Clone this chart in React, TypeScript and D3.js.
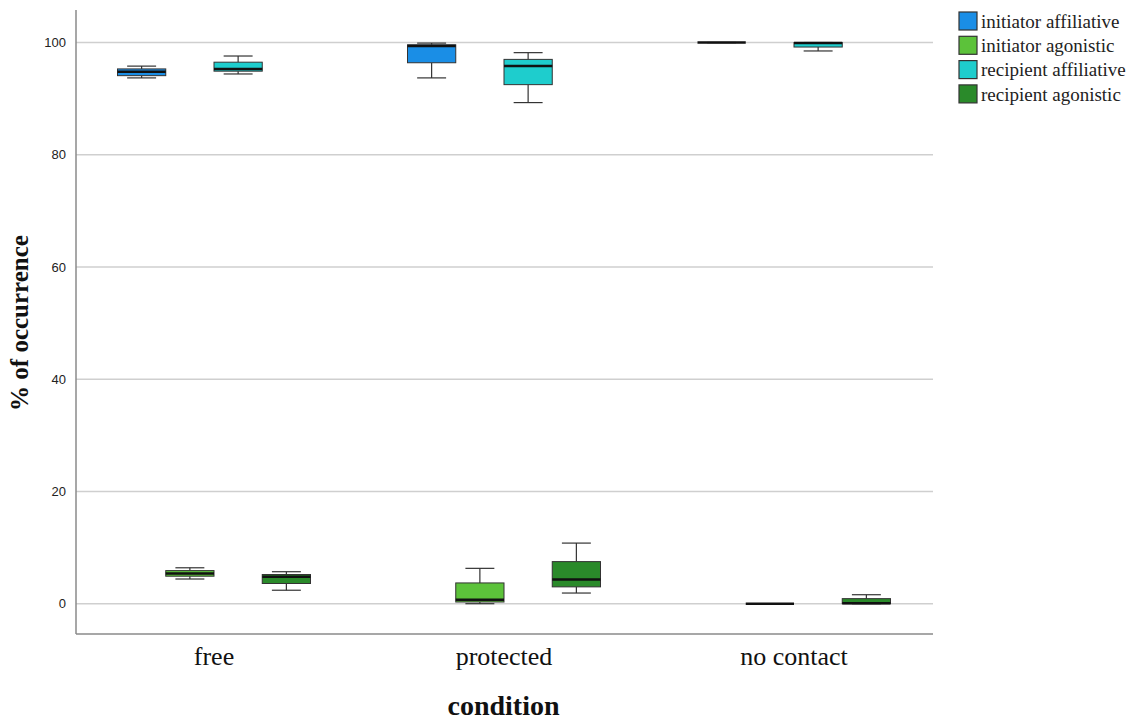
import React from "react";
import * as d3 from "d3";

// conditions on the x axis
const conditions = ["free", "protected", "no contact"];
const seriesNames = ["initiator affiliative", "initiator agonistic", "recipient affiliative", "recipient agonistic"];
const seriesColors = ["#1a8ee6", "#5cc23a", "#1ecdcd", "#2a8a2a"];

// box stats per series, one entry per condition: [min, q1, median, q3, max]
const initiatorAffiliative = [
  [93.7, 94.1, 94.8, 95.3, 95.8],
  [93.7, 96.4, 99.4, 99.6, 99.9],
  [100, 100, 100, 100, 100],
];
const initiatorAgonistic = [
  [4.4, 4.9, 5.4, 5.9, 6.4],
  [0, 0.3, 0.7, 3.7, 6.3],
  [0, 0, 0, 0, 0],
];
const recipientAffiliative = [
  [94.4, 94.9, 95.3, 96.5, 97.6],
  [89.3, 92.5, 95.8, 97.0, 98.2],
  [98.5, 99.2, 99.9, 100, 100],
];
const recipientAgonistic = [
  [2.4, 3.6, 4.8, 5.2, 5.7],
  [1.9, 3.0, 4.3, 7.5, 10.8],
  [0, 0, 0.1, 0.9, 1.6],
];
const yTicks = [0, 20, 40, 60, 80, 100];

const allSeries = [initiatorAffiliative, initiatorAgonistic, recipientAffiliative, recipientAgonistic];

export default function App() {
  const width = 1135, height = 720;
  const margin = { left: 76, right: 202, top: 10, bottom: 86 };
  const innerW = width - margin.left - margin.right;
  const innerH = height - margin.top - margin.bottom;

  // group centres
  const x = d3.scalePoint().domain(conditions).range([138, 718]);
  const groupW = 193;
  const xs = d3.scaleBand().domain(seriesNames).range([-groupW / 2, groupW / 2]);
  const y = d3.scaleLinear().domain([-5.4, 105.8]).range([innerH, 0]);

  const serif = "'Liberation Serif', 'Times New Roman', serif";
  const sans = "'Liberation Sans', Arial, sans-serif";

  return (
    <svg width={width} height={height} style={{ position: "absolute", left: 0, top: 0 }}>
      <rect width={width} height={height} fill="#fff" />
      <g transform={`translate(${margin.left},${margin.top})`}>
        {/* grid */}
        {yTicks.map((t) => (
          <g key={t}>
            <line x1={0} x2={innerW} y1={y(t)} y2={y(t)} stroke="#cfcfcf" strokeWidth={1.5} />
            <text x={-10} y={y(t)} dy="0.35em" textAnchor="end" fontFamily={sans} fontSize={13} fill="#222">{t}</text>
          </g>
        ))}
        {/* axes */}
        <line x1={0} x2={0} y1={0} y2={innerH} stroke="#8a8a8a" strokeWidth={1.5} />
        <line x1={0} x2={innerW} y1={innerH} y2={innerH} stroke="#8a8a8a" strokeWidth={1.5} />

        {/* boxes */}
        {allSeries.map((series, si) =>
          series.map((s, ci) => {
            const bx = (x(conditions[ci]) ?? 0) + (xs(seriesNames[si]) ?? 0);
            const bw = xs.bandwidth();
            const cx = bx + bw / 2;
            const [mn, q1, med, q3, mx] = s;
            const cap = bw * 0.3;
            return (
              <g key={`${si}-${ci}`}>
                <line x1={cx} x2={cx} y1={y(mx)} y2={y(q3)} stroke="#333" strokeWidth={1.2} />
                <line x1={cx} x2={cx} y1={y(q1)} y2={y(mn)} stroke="#333" strokeWidth={1.2} />
                <line x1={cx - cap} x2={cx + cap} y1={y(mx)} y2={y(mx)} stroke="#333" strokeWidth={1.2} />
                <line x1={cx - cap} x2={cx + cap} y1={y(mn)} y2={y(mn)} stroke="#333" strokeWidth={1.2} />
                <rect x={bx} y={y(q3)} width={bw} height={Math.max(0, y(q1) - y(q3))}
                  fill={seriesColors[si]} stroke="#333" strokeWidth={1} />
                <line x1={bx} x2={bx + bw} y1={y(med)} y2={y(med)} stroke="#111" strokeWidth={2.5} />
              </g>
            );
          })
        )}

        {/* x labels */}
        {conditions.map((c) => (
          <text key={c} x={x(c) ?? 0} y={innerH + 31} textAnchor="middle"
            fontFamily={serif} fontSize={26} fill="#111">{c}</text>
        ))}
        <text x={innerW / 2 - 1} y={innerH + 81} textAnchor="middle" fontFamily={serif} fontSize={28}
          fontWeight="bold" fill="#111">condition</text>
        <text transform={`translate(${-48},${innerH / 2 + 1}) rotate(-90)`} textAnchor="middle"
          fontFamily={serif} fontSize={25} fontWeight="bold" fill="#111">% of occurrence</text>
      </g>

      {/* legend */}
      <g transform="translate(959,12)">
        {seriesNames.map((n, i) => (
          <g key={n} transform={`translate(0,${i * 24.3})`}>
            <rect x={0} y={0} width={18} height={18} fill={seriesColors[i]} stroke="#333" strokeWidth={1.2} />
            <text x={22} y={9} dy="0.35em" fontFamily={serif} fontSize={19} fill="#222">{n}</text>
          </g>
        ))}
      </g>
    </svg>
  );
}
